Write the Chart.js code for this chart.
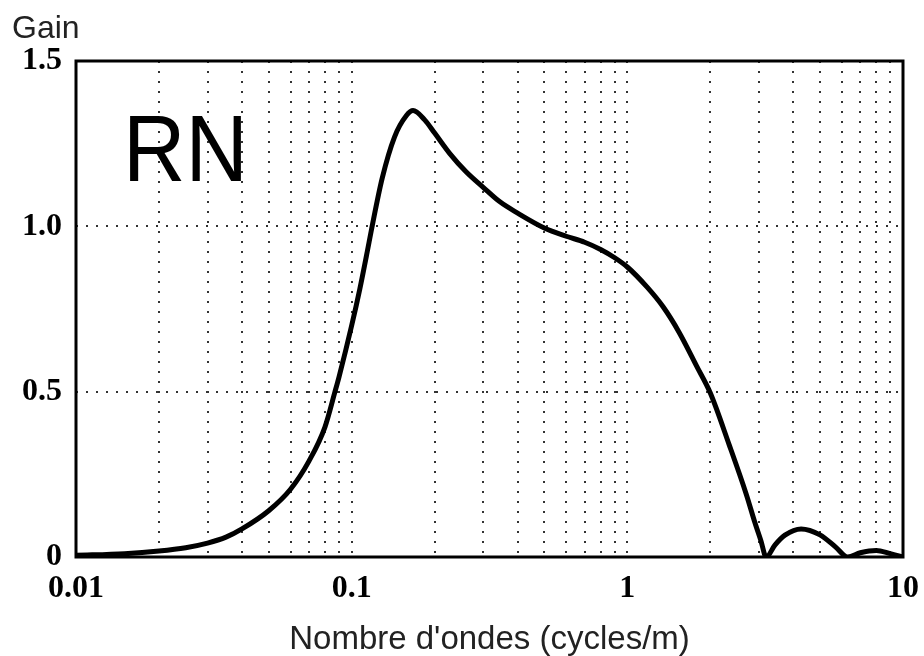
<!DOCTYPE html>
<html>
<head>
<meta charset="utf-8">
<title>Gain RN</title>
<script src="https://cdn.jsdelivr.net/npm/chart.js@4/dist/chart.umd.min.js"></script>
<style>
  html, body { margin: 0; padding: 0; background: #fff; }
  #wrap { width: 924px; height: 656px; }
</style>
</head>
<body>
<div id="wrap"><canvas id="gain-chart" width="924" height="656"></canvas></div>
<script>
// Gain curve of the RN filter against wave number (cycles/m)
const waveNumbers = [0.01, 0.015, 0.02, 0.025, 0.03, 0.035, 0.04, 0.05, 0.06, 0.07,
  0.08, 0.087, 0.09, 0.1, 0.107, 0.114, 0.118, 0.129, 0.143, 0.158,
  0.167, 0.184, 0.2, 0.227, 0.26, 0.3, 0.345, 0.4, 0.5, 0.6,
  0.7, 0.8, 0.9, 1.0, 1.18, 1.35, 1.54, 1.79, 2.0, 2.34,
  2.7, 2.9, 3.05, 3.19, 3.43, 3.73, 4.27, 5.0, 5.7, 6.3,
  7.0, 8.0, 9.0, 10];
const gains = [0.005, 0.01, 0.018, 0.028, 0.042, 0.06, 0.085, 0.14, 0.205, 0.29,
  0.393, 0.5, 0.545, 0.7, 0.81, 0.925, 0.99, 1.145, 1.27, 1.335,
  1.35, 1.322, 1.282, 1.22, 1.165, 1.118, 1.074, 1.04, 0.995, 0.97,
  0.952, 0.93, 0.905, 0.877, 0.816, 0.756, 0.68, 0.575, 0.496, 0.34,
  0.19, 0.105, 0.05, 0, 0.036, 0.066, 0.085, 0.067, 0.03, 0,
  0.013, 0.02, 0.01, 0];

const xDecades = [0.01, 0.1, 1, 10];
const xMinorSteps = [2, 3, 4, 5, 6, 7, 8, 9];
const yTicks = [0, 0.5, 1.0, 1.5];

const yLabel = 'Gain';
const xLabel = "Nombre d'ondes (cycles/m)";
const panelName = 'RN';

document.addEventListener('DOMContentLoaded', () => {
  // every decade plus its 2..9 minor lines
  const xTicks = [];
  xDecades.forEach((d, i) => {
    xTicks.push(d);
    if (i < xDecades.length - 1) xMinorSteps.forEach(s => xTicks.push(d * s));
  });

  const dotted = { color: '#333', lineWidth: 2, drawTicks: false };

  // frame round the plot, y label and panel name
  const decor = {
    id: 'decor',
    afterDraw(chart) {
      const { ctx, chartArea: a } = chart;
      ctx.save();
      ctx.strokeStyle = '#000';
      ctx.lineWidth = 3;
      ctx.setLineDash([]);
      ctx.strokeRect(a.left, a.top, a.right - a.left, a.bottom - a.top);

      ctx.fillStyle = '#222';
      ctx.font = '32px "Liberation Sans", Arial, sans-serif';
      ctx.textBaseline = 'alphabetic';
      ctx.textAlign = 'left';
      ctx.fillText(yLabel, 12, 38);

      ctx.fillStyle = '#000';
      ctx.font = '94px "Liberation Sans", Arial, sans-serif';
      ctx.translate(a.left + 47, 181);
      ctx.scale(0.92, 1);
      ctx.fillText(panelName, 0, 0);
      ctx.restore();
    }
  };

  const ctx = document.getElementById('gain-chart').getContext('2d');
  new Chart(ctx, {
    type: 'line',
    data: {
      datasets: [{
        data: waveNumbers.map((x, i) => ({ x, y: gains[i] })),
        borderColor: '#000',
        borderWidth: 5,
        pointRadius: 0,
        fill: false,
        cubicInterpolationMode: 'monotone',
      }],
    },
    options: {
      responsive: false,
      animation: false,
      devicePixelRatio: 1,
      layout: { padding: { top: 61, right: 21, left: 0, bottom: 0 } },
      plugins: { legend: { display: false }, tooltip: { enabled: false } },
      scales: {
        x: {
          type: 'logarithmic',
          min: 0.01,
          max: 10,
          afterBuildTicks: axis => { axis.ticks = xTicks.map(v => ({ value: v })); },
          afterFit: axis => { axis.height = 99; axis.paddingRight = 0; },
          grid: dotted,
          border: { display: false, dash: [2, 8] },
          ticks: {
            autoSkip: false,
            maxRotation: 0,
            padding: 13,
            color: '#000',
            font: { family: '"Liberation Serif", "Times New Roman", serif', size: 32, weight: 'bold' },
            callback: v => (xDecades.includes(v) ? String(v) : ''),
          },
          title: {
            display: true,
            text: xLabel,
            color: '#222',
            padding: 0,
            font: { family: '"Liberation Sans", Arial, sans-serif', size: 33, lineHeight: 1 },
          },
        },
        y: {
          min: 0,
          max: 1.5,
          afterBuildTicks: axis => { axis.ticks = yTicks.map(v => ({ value: v })); },
          afterFit: axis => { axis.width = 76; },
          grid: dotted,
          border: { display: false, dash: [2, 8] },
          ticks: {
            padding: 14,
            color: '#000',
            font: { family: '"Liberation Serif", "Times New Roman", serif', size: 32, weight: 'bold' },
            callback: v => (v === 0 ? '0' : v.toFixed(1)),
          },
        },
      },
    },
    plugins: [decor],
  });
});
</script>
</body>
</html>
